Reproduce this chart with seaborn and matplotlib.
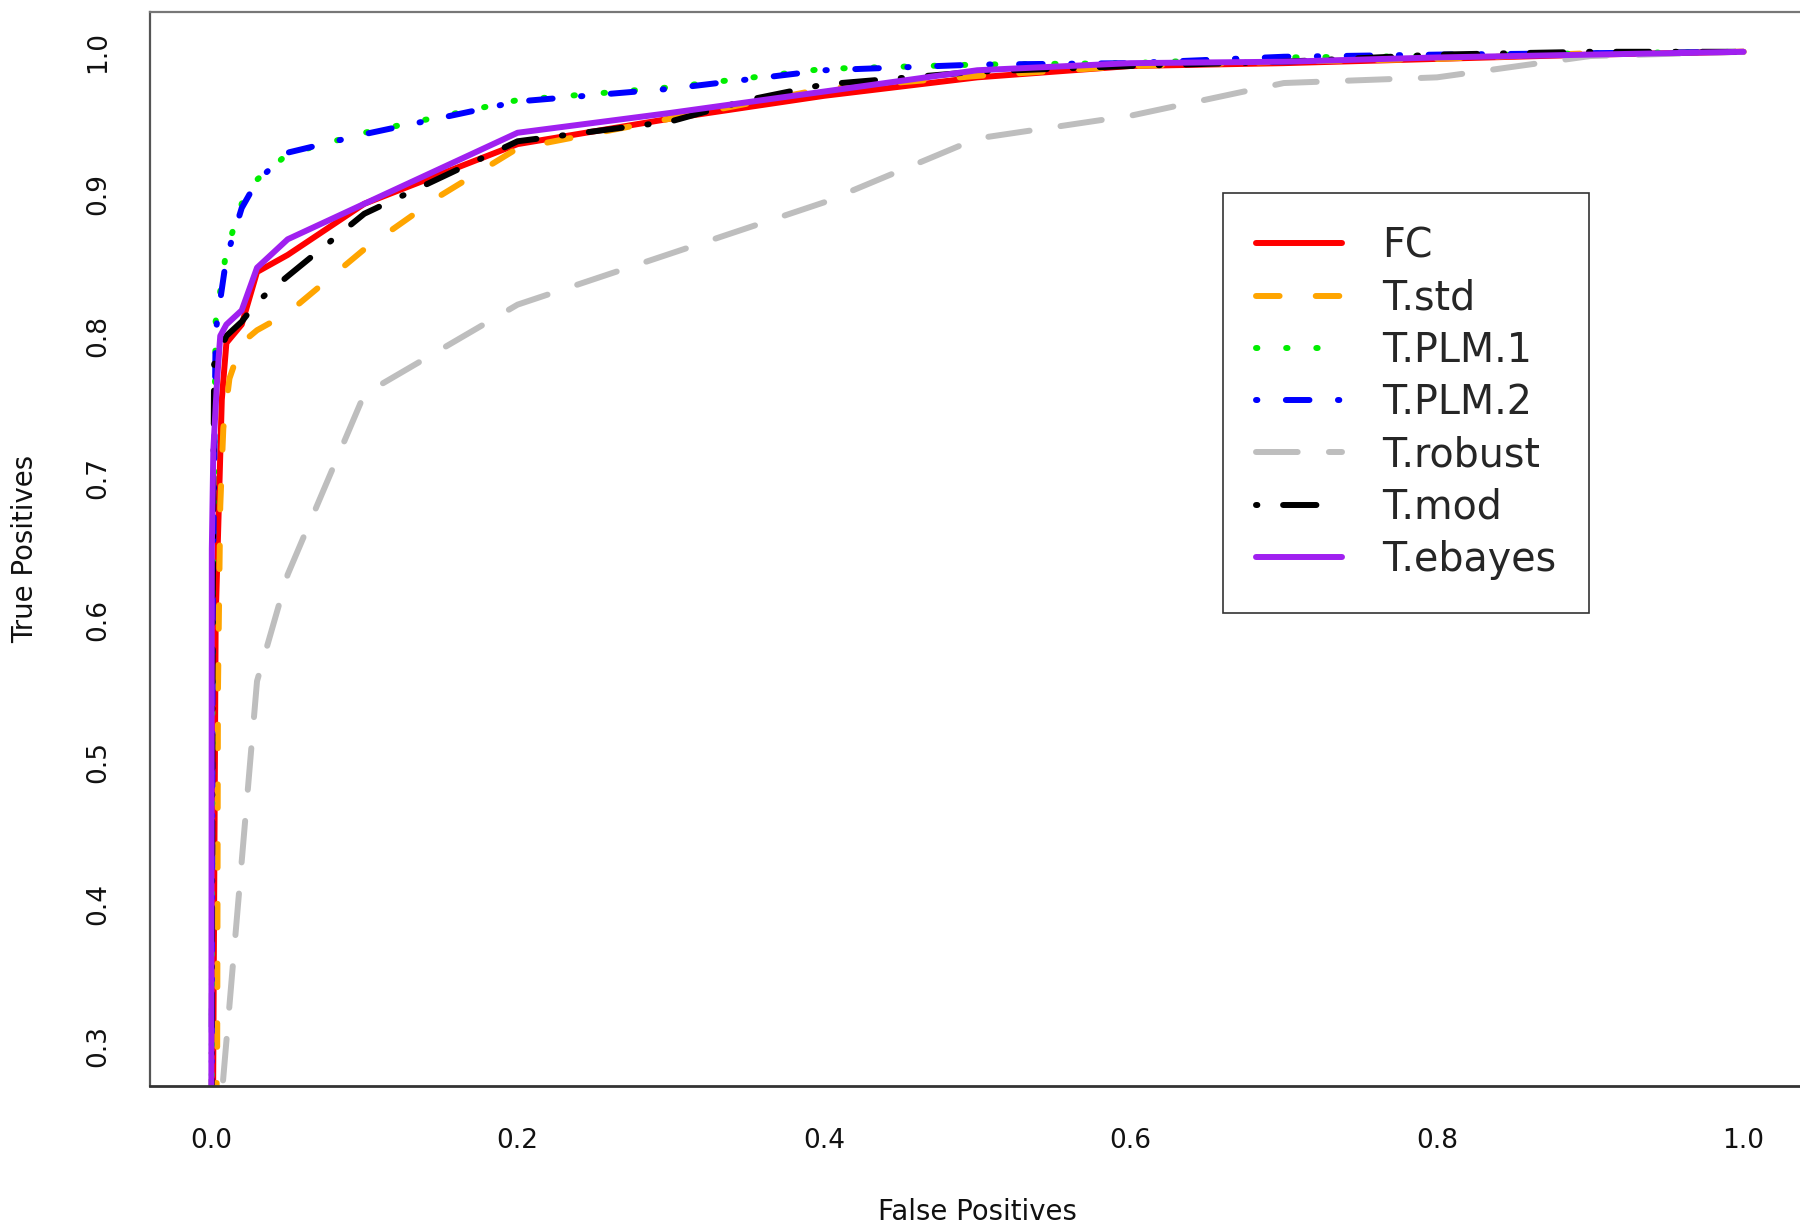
import matplotlib
matplotlib.use("Agg")
import matplotlib.pyplot as plt
import seaborn as sns
import pandas as pd

# ---------------- data ----------------
series_names = ["FC", "T.std", "T.PLM.1", "T.PLM.2", "T.robust", "T.mod", "T.ebayes"]

fc_x = [0.0, 0.003, 0.007, 0.01, 0.02, 0.03, 0.05, 0.1, 0.2, 0.3, 0.4, 0.5, 0.6, 0.7, 0.8, 0.9, 1.0]
fc_y = [0.0, 0.60, 0.755, 0.795, 0.808, 0.845, 0.857, 0.893, 0.935, 0.953, 0.969, 0.982, 0.990, 0.992, 0.995, 0.998, 1.0]

std_x = [0.0, 0.004, 0.0045, 0.006, 0.008, 0.012, 0.02, 0.03, 0.05, 0.1, 0.15, 0.2, 0.3, 0.4, 0.5, 0.6, 0.7, 0.8, 0.9, 1.0]
std_y = [0.0, 0.30, 0.55, 0.68, 0.735, 0.77, 0.795, 0.804, 0.816, 0.861, 0.899, 0.932, 0.953, 0.974, 0.983, 0.990, 0.993, 0.995, 0.999, 1.0]

plm1_x = [0.0, 0.001, 0.003, 0.01, 0.02, 0.03, 0.05, 0.1, 0.2, 0.3, 0.4, 0.5, 0.6, 0.7, 0.8, 0.9, 1.0]
plm1_y = [0.0, 0.60, 0.81, 0.86, 0.893, 0.910, 0.928, 0.943, 0.966, 0.975, 0.988, 0.991, 0.992, 0.996, 0.997, 0.999, 1.0]

plm2_x = [0.0, 0.001, 0.003, 0.01, 0.02, 0.03, 0.05, 0.1, 0.2, 0.3, 0.4, 0.5, 0.6, 0.7, 0.8, 0.9, 1.0]
plm2_y = [0.0, 0.60, 0.803, 0.855, 0.89, 0.909, 0.929, 0.942, 0.965, 0.974, 0.987, 0.991, 0.992, 0.9965, 0.998, 0.999, 1.0]

rob_x = [0.0, 0.005, 0.03, 0.05, 0.1, 0.2, 0.3, 0.4, 0.5, 0.6, 0.7, 0.8, 0.9, 1.0]
rob_y = [0.0, 0.24, 0.557, 0.632, 0.759, 0.822, 0.858, 0.894, 0.939, 0.955, 0.978, 0.982, 0.997, 1.0]

mod_x = [0.0, 0.001, 0.002, 0.01, 0.02, 0.03, 0.05, 0.1, 0.2, 0.3, 0.35, 0.4, 0.5, 0.6, 0.7, 0.8, 0.9, 1.0]
mod_y = [0.0, 0.60, 0.78, 0.80, 0.81, 0.824, 0.842, 0.886, 0.937, 0.951, 0.966, 0.977, 0.986, 0.990, 0.993, 0.998, 1.0, 1.0]

eb_x = [0.0, 0.0005, 0.0015, 0.004, 0.006, 0.01, 0.02, 0.03, 0.05, 0.1, 0.2, 0.3, 0.4, 0.5, 0.6, 0.7, 0.8, 0.9, 1.0]
eb_y = [0.0, 0.65, 0.72, 0.77, 0.80, 0.808, 0.818, 0.848, 0.868, 0.893, 0.943, 0.957, 0.972, 0.987, 0.992, 0.993, 0.996, 0.998, 1.0]

x_ticks = [0.0, 0.2, 0.4, 0.6, 0.8, 1.0]
x_tick_labels = ["0.0", "0.2", "0.4", "0.6", "0.8", "1.0"]
y_ticks = [0.3, 0.4, 0.5, 0.6, 0.7, 0.8, 0.9, 1.0]
y_tick_labels = ["0.3", "0.4", "0.5", "0.6", "0.7", "0.8", "0.9", "1.0"]

# ---------------- styles ----------------
colors = ["#FF0000", "#FFA500", "#00EE00", "#0000FF", "#BEBEBE", "#000000", "#A020F0"]
dash_styles = [
    "-",
    (0, (17, 26)),
    (0, (1.0, 20.7)),
    (0, (1.0, 20.5, 17, 20.5)),
    (0, (30, 22.5)),
    (0, (1.0, 18.5, 24, 18.5)),
    "-",
]

sns.set_style("white")
plt.rcParams["font.family"] = ["DejaVu Sans"]
plt.rcParams["lines.scale_dashes"] = False

fig = plt.figure(figsize=(18, 12.25), dpi=100)
ax = fig.add_axes([0.0832, 0.1135, 0.9195, 0.8767])

all_x = [fc_x, std_x, plm1_x, plm2_x, rob_x, mod_x, eb_x]
all_y = [fc_y, std_y, plm1_y, plm2_y, rob_y, mod_y, eb_y]

for name, xs, ys, c, ls in zip(series_names, all_x, all_y, colors, dash_styles):
    df = pd.DataFrame({"fpr": xs, "tpr": ys})
    sns.lineplot(data=df, x="fpr", y="tpr", ax=ax, color=c, linewidth=4.3,
                 linestyle=ls, estimator=None, sort=False, label=name,
                 dash_capstyle="round", solid_capstyle="round",
                 solid_joinstyle="round", dash_joinstyle="round")

ax.set_xlim(-0.04, 1.04)
ax.set_ylim(0.272, 1.028)

ax.set_xticks(x_ticks)
ax.set_xticklabels(x_tick_labels)
ax.set_yticks(y_ticks)
ax.set_yticklabels(y_tick_labels, rotation=90, va="center")

ax.tick_params(axis="both", direction="out", length=12, width=1.1, color="#222222",
               labelsize=19, labelcolor="#111111")
ax.tick_params(axis="x", pad=18)
ax.tick_params(axis="y", pad=16)

ax.set_xlabel("False Positives", fontsize=19.8, color="#111111")
ax.set_ylabel("True Positives", fontsize=19.8, color="#111111")
ax.xaxis.set_label_coords(0.5, -0.117)
ax.yaxis.set_label_coords(-0.0753, 0.5)
ax.xaxis.label.set_va("center")
ax.yaxis.label.set_va("center")
ax.yaxis.label.set_ha("center")

for side, col, w in [("left", "#555555", 1.6), ("top", "#777777", 1.6), ("bottom", "#333333", 2.0)]:
    ax.spines[side].set_color(col)
    ax.spines[side].set_linewidth(w)
ax.spines["right"].set_visible(False)

handles, labels = ax.get_legend_handles_labels()
leg = ax.legend(handles, labels, loc="upper left",
                bbox_to_anchor=(1223 / 1800, 1 - 193 / 1225),
                bbox_transform=fig.transFigure, borderaxespad=0,
                fontsize=28.5, handlelength=2.17, handletextpad=1.0,
                labelspacing=0.31, borderpad=0.84, fancybox=False,
                framealpha=1, edgecolor="#333333")
leg.get_frame().set_linewidth(1.2)

fig.savefig("out.png", dpi=100)
